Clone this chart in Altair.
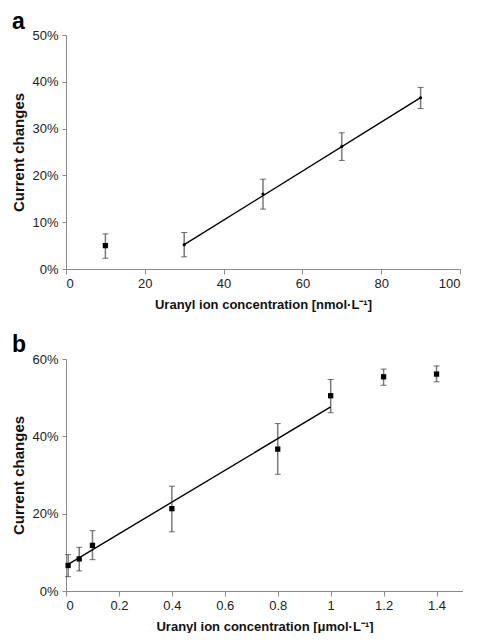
import altair as alt
import pandas as pd

# Panel a data (nmol/L, % current change)
a_x = [10, 30, 50, 70, 90]
a_y = [5.0, 5.2, 16.0, 26.2, 36.6]
a_lo = [2.3, 2.6, 12.8, 23.2, 34.3]
a_hi = [7.5, 7.8, 19.2, 29.1, 38.8]
a_marker = ["square", "dot", "dot", "dot", "dot"]
a_fit_x = [30, 90]
a_fit_y = [5.2, 36.6]

# Panel b data (umol/L, % current change)
b_x = [0.008, 0.05, 0.1, 0.4, 0.8, 1.0, 1.2, 1.4]
b_y = [6.6, 8.3, 11.8, 21.3, 36.7, 50.5, 55.4, 56.1]
b_lo = [3.7, 5.2, 8.1, 15.3, 30.2, 46.1, 53.2, 54.1]
b_hi = [9.4, 11.3, 15.6, 27.1, 43.3, 54.7, 57.4, 58.2]
b_fit_x = [0.008, 1.0]
b_fit_y = [6.9, 47.6]

FONT = "Liberation Sans"


def panel(xs, ys, lo, hi, markers, fx, fy, xdom, xvals, xfmt, ydom, yvals,
          xtitle, letter, w, h, ly):
    df = pd.DataFrame({"x": xs, "y": ys, "lo": lo, "hi": hi, "m": markers})
    fit = pd.DataFrame({"x": fx, "y": fy})
    xs_ = alt.Scale(domain=xdom, nice=False, zero=False)
    ys_ = alt.Scale(domain=ydom, nice=False)
    xaxis = alt.Axis(values=xvals, format=xfmt, title=xtitle, tickSize=5,
                     labelPadding=3, titlePadding=8)
    yaxis = alt.Axis(values=yvals, labelExpr="datum.value + '%'",
                     title="Current changes", tickSize=4, labelPadding=4,
                     titlePadding=5)
    base = alt.Chart(df)
    rules = base.mark_rule(color="#7a7a7a", strokeWidth=1.5).encode(
        x=alt.X("x:Q", scale=xs_, axis=xaxis),
        y=alt.Y("lo:Q", scale=ys_, axis=yaxis),
        y2="hi:Q",
    )
    cap_lo = base.mark_tick(orient="horizontal", color="#333", size=6,
                            thickness=1).encode(x="x:Q", y="lo:Q")
    cap_hi = base.mark_tick(orient="horizontal", color="#333", size=6,
                            thickness=1).encode(x="x:Q", y="hi:Q")
    line = alt.Chart(fit).mark_line(color="black", strokeWidth=1.4).encode(
        x="x:Q", y="y:Q")
    sq = base.transform_filter(alt.datum.m == "square").mark_square(
        color="black", size=28, opacity=1).encode(x="x:Q", y="y:Q")
    dots = base.transform_filter(alt.datum.m == "dot").mark_circle(
        color="black", size=10, opacity=1).encode(x="x:Q", y="y:Q")
    lbl = alt.Chart(pd.DataFrame({"t": [letter]})).mark_text(
        font=FONT, fontSize=23, fontWeight="bold", align="left",
        baseline="top", color="black").encode(
        x=alt.value(-54), y=alt.value(ly), text="t:N")
    return alt.layer(rules, cap_lo, cap_hi, line, sq, dots, lbl).properties(
        width=w, height=h)


pa = panel(a_x, a_y, a_lo, a_hi, a_marker, a_fit_x, a_fit_y, [0, 100],
           [0, 20, 40, 60, 80, 100], "d", [0, 50], [0, 10, 20, 30, 40, 50],
           "Uranyl ion concentration [nmol·L⁻¹]", "a", 394, 234, -24)
pb = panel(b_x, b_y, b_lo, b_hi, ["square"] * len(b_x), b_fit_x, b_fit_y,
           [0, 1.5], [0, 0.2, 0.4, 0.6, 0.8, 1, 1.2, 1.4], "~g", [0, 60],
           [0, 20, 40, 60], "Uranyl ion concentration [μmol·L⁻¹]", "b",
           397, 232, -25)

chart = alt.vconcat(pa, pb, spacing=23).properties(
    padding={"left": 3, "top": 3, "right": 0, "bottom": 0}).configure_view(
    stroke=None).configure_axis(
    grid=False, domainColor="#8a8a8a", tickColor="#8a8a8a",
    labelColor="#222", labelFont=FONT, labelFontSize=13,
    titleFont=FONT, titleColor="#111", titleFontWeight="bold").configure_axisX(
    titleFontSize=13).configure_axisY(titleFontSize=15)

chart.save("out.html", embed_options={"renderer": "svg", "actions": False})
